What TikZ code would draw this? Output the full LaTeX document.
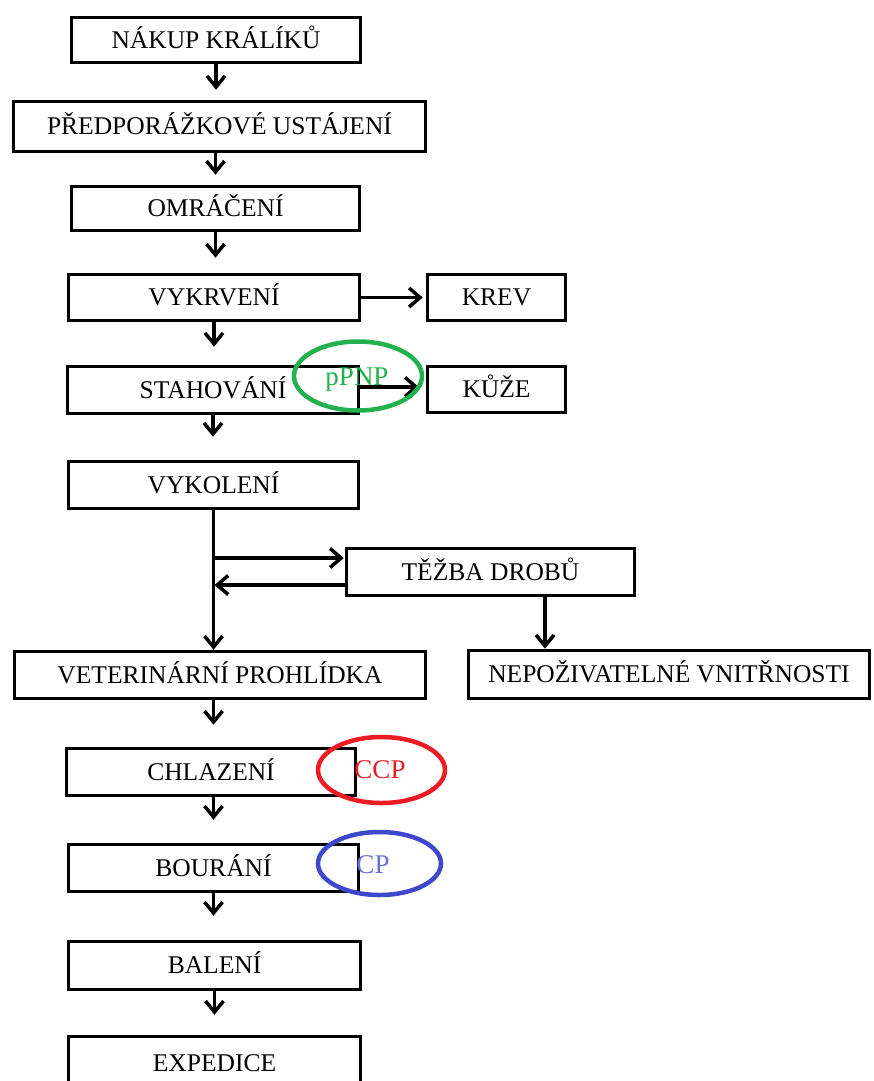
\documentclass[tikz,border=0pt]{standalone}
\usepackage{fontspec}
\setmainfont{Liberation Serif}
\usetikzlibrary{arrows.meta,shapes.geometric,calc}
\definecolor{pgreen}{RGB}{34,177,76}
\definecolor{pred}{RGB}{237,28,36}
\definecolor{pblue}{RGB}{63,72,204}
\begin{document}
\begin{tikzpicture}[x=1pt,y=-1pt,
  box/.style={draw, line width=3.5pt, inner sep=0pt, font=\fontsize{25.5}{28}\selectfont,
    text height=16.9pt, text depth=0pt, minimum height=47pt},
  darr/.style={line width=3.2pt, -{Straight Barb[length=11pt,width=18pt,line width=3.5pt]}},
  harr/.style={line width=3.2pt, -{Straight Barb[length=11pt,width=19pt,line width=3.5pt]}},
  ring/.style={ellipse, draw, line width=4.5pt, inner sep=0pt},
  ann/.style={font=\fontsize{27}{30}\selectfont, text height=17.9pt, text depth=0pt, inner sep=0pt}]
\useasboundingbox[fill=white] (0,0) rectangle (873,1081);

\node[box, minimum width=289pt, minimum height=45pt] (nakup) at (216,40) {NÁKUP KRÁLÍKŮ};
\node[box, minimum width=412pt, minimum height=50pt] (predp) at (219.5,126.5) {PŘEDPORÁŽKOVÉ USTÁJENÍ};
\node[box, minimum width=288pt, minimum height=44pt] (omr) at (215.5,208.5) {OMRÁČENÍ};
\node[box, minimum width=291pt, minimum height=46pt] (vykrv) at (214,297.5) {VYKRVENÍ};
\node[box, minimum width=138pt, minimum height=46pt] (krev) at (496.5,297.5) {KREV};
\node[box, minimum width=291pt, minimum height=47pt] (stah) at (213,390) {STAHOVÁNÍ};
\node[box, minimum width=138pt, minimum height=46pt] (kuze) at (496.5,389.5) {KŮŽE};
\node[box, minimum width=290pt, minimum height=47pt] (vykol) at (213.5,485) {VYKOLENÍ};
\node[box, minimum width=288pt, minimum height=47pt] (tezba) at (490.5,572) {TĚŽBA DROBŮ};
\node[box, minimum width=411pt, minimum height=47pt] (vet) at (220,675) {VETERINÁRNÍ PROHLÍDKA};
\node[box, minimum width=401pt, minimum height=48pt] (nepoz) at (669,674.5) {NEPOŽIVATELNÉ VNITŘNOSTI};
\node[box, minimum width=289pt, minimum height=47pt] (chlaz) at (211,772) {CHLAZENÍ};
\node[box, minimum width=290pt, minimum height=47pt] (bour) at (213.5,868) {BOURÁNÍ};
\node[box, minimum width=292pt, minimum height=48pt] (balen) at (214.5,965.5) {BALENÍ};
\node[box, minimum width=292pt, minimum height=53pt] (exped) at (214.5,1063) {EXPEDICE};

% main flow
\draw[darr, shorten >=10pt] (nakup.south) -- (nakup.south |- predp.north);
\draw[darr, shorten >=10pt] (omr.north |- predp.south) -- (omr.north);
\draw[darr, shorten >=15pt] (omr.south) -- (omr.south |- vykrv.north);
\draw[darr, shorten >=18pt] (vykrv.south) -- (vykrv.south |- stah.north);
\draw[darr, shorten >=23pt] (stah.south) -- (stah.south |- vykol.north);
\draw[darr] (vykol.south) -- (vykol.south |- vet.north);
\draw[darr, shorten >=22pt] (vykol.south |- vet.south) -- (vykol.south |- chlaz.north);
\draw[darr, shorten >=23pt] (bour.north |- chlaz.south) -- (bour.north);
\draw[darr, shorten >=24pt] (bour.south) -- (bour.south |- balen.north);
\draw[darr, shorten >=20pt] (balen.south) -- (balen.south |- exped.north);

% side outputs
\draw[harr, shorten >=3pt] (vykrv.east) -- (krev.west);
\draw[harr, shorten >=7pt] ([yshift=3pt]stah.east) -- ([yshift=3pt]stah.east -| kuze.west);

% offal branch
\coordinate (bout) at ([yshift=14pt]tezba.west);
\coordinate (bin) at ([yshift=-13pt]tezba.west);
\draw[harr, shorten >=1pt] (vykol.south |- bout) -- (bout);
\draw[harr, shorten >=1pt] (bin) -- (vykol.south |- bin);
\draw[darr] ([xshift=54.5pt]tezba.south) -- ([xshift=54.5pt]tezba.south |- nepoz.north);

% control point annotations
\node[ring, pgreen, minimum width=128pt, minimum height=69pt] (ppnp) at (358,376) {};
\node[ann, pgreen] (ppnpt) at (357,377) {pPNP};
\node[ring, pred, minimum width=127pt, minimum height=66pt] (ccp) at (381.5,770) {};
\node[ann, pred] (ccpt) at (380,770) {CCP};
\node[ring, pblue, minimum width=123pt, minimum height=63pt] (cp) at (379.5,863.5) {};
\node[ann, pblue!80!white] (cpt) at (373,865) {CP};
\end{tikzpicture}
\end{document}
